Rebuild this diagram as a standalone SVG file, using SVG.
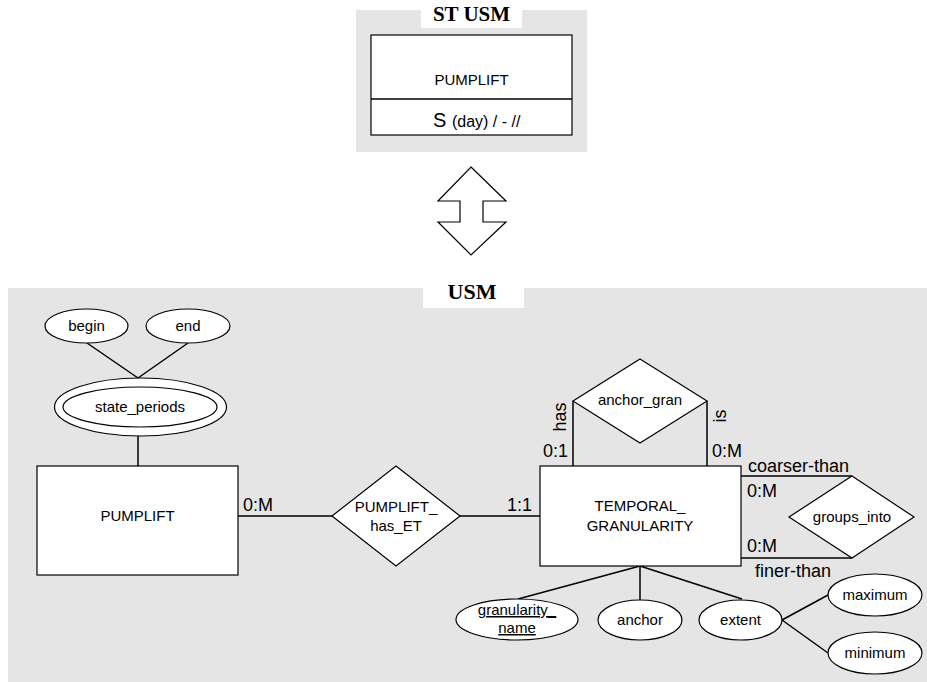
<svg xmlns="http://www.w3.org/2000/svg" width="927" height="682" viewBox="0 0 927 682">
<style>
.panel{fill:#e5e5e5;stroke:none}
.tbox{fill:#ffffff;stroke:none}
.shape{fill:#ffffff;stroke:#000000;stroke-width:1.2}
.ln{stroke:#000000;stroke-width:1.5;fill:none}
.t{font-family:"Liberation Sans",Arial,sans-serif;font-size:15px;fill:#000;text-anchor:middle}
.c{font-family:"Liberation Sans",Arial,sans-serif;font-size:18px;fill:#000}
.title{font-family:"Liberation Serif","Times New Roman",serif;font-weight:bold;font-size:21px;fill:#000;text-anchor:middle}
</style>
<rect width="927" height="682" fill="#ffffff"/>
<g id="st-usm-panel">
<rect class="panel" x="356" y="10" width="231" height="142"/>
<rect class="tbox" x="421" y="0" width="101" height="28"/>
<text class="title" x="471.5" y="21">ST USM</text>
</g>
<g id="st-pumplift">
<rect class="shape" x="371" y="35" width="201" height="100"/>
<line class="ln" x1="371" y1="99" x2="572" y2="99"/>
<text class="t" x="471.5" y="85">PUMPLIFT</text>
<text x="433" y="127" style="font-family:'Liberation Sans',Arial,sans-serif;font-size:20px;fill:#000">S <tspan style="font-size:16px">(day) / - //</tspan></text>
</g>
<g id="double-arrow">
<polygon class="shape" points="471,167 506,201 483,201 483,222 506,222 471,255 438,222 460,222 460,201 438,201"/>
</g>
<g id="usm-panel">
<rect class="panel" x="8" y="288" width="919" height="394"/>
<rect class="tbox" x="423" y="288" width="101" height="20"/>
<text class="title" x="472" y="299" style="font-size:22px">USM</text>
</g>
<g id="connectors">
<line class="ln" x1="87" y1="343" x2="138" y2="378"/>
<line class="ln" x1="188" y1="343" x2="138" y2="378"/>
<line class="ln" x1="138" y1="436" x2="138" y2="466"/>
<line class="ln" x1="238" y1="516" x2="332" y2="516"/>
<line class="ln" x1="460" y1="516" x2="540" y2="516"/>
<line class="ln" x1="573" y1="401" x2="573" y2="466"/>
<line class="ln" x1="707" y1="401" x2="707" y2="466"/>
<line class="ln" x1="741" y1="476" x2="852" y2="476"/>
<line class="ln" x1="741" y1="558" x2="852" y2="558"/>
<line class="ln" x1="640" y1="566" x2="518" y2="599"/>
<line class="ln" x1="640" y1="566" x2="640" y2="600"/>
<line class="ln" x1="640" y1="566" x2="742" y2="599"/>
<line class="ln" x1="782" y1="620" x2="828" y2="595"/>
<line class="ln" x1="782" y1="620" x2="828" y2="653"/>
<text class="c" x="243" y="511">0:M</text>
<text class="c" x="532" y="511" text-anchor="end">1:1</text>
<text class="c" x="543" y="457">0:1</text>
<text class="c" x="712" y="457">0:M</text>
<text class="c" transform="translate(566,417) rotate(-90)" text-anchor="middle">has</text>
<text class="c" transform="translate(726,416) rotate(-90)" text-anchor="middle">is</text>
<text class="c" x="748" y="472">coarser-than</text>
<text class="c" x="747" y="497">0:M</text>
<text class="c" x="747" y="552">0:M</text>
<text class="c" x="755" y="577">finer-than</text>
</g>
<g id="begin">
<ellipse class="shape" cx="86.5" cy="326" rx="41.5" ry="17"/>
<text class="t" x="86.5" y="331">begin</text>
</g>
<g id="end">
<ellipse class="shape" cx="188" cy="326" rx="42" ry="17"/>
<text class="t" x="188" y="331">end</text>
</g>
<g id="state_periods">
<ellipse class="shape" cx="140.5" cy="407" rx="86" ry="29"/>
<ellipse class="shape" cx="140" cy="407" rx="77" ry="20"/>
<text class="t" x="140" y="412">state_periods</text>
</g>
<g id="pumplift">
<rect class="shape" x="37" y="466" width="201" height="109"/>
<text class="t" x="137.5" y="521">PUMPLIFT</text>
</g>
<g id="pumplift_has_et">
<polygon class="shape" points="396,466 460,516 396,566 332,516"/>
<text class="t" x="396" y="512">PUMPLIFT_</text>
<text class="t" x="396" y="531">has_ET</text>
</g>
<g id="temporal_granularity">
<rect class="shape" x="540" y="466" width="201" height="100"/>
<text class="t" x="640" y="511">TEMPORAL_</text>
<text class="t" x="640" y="531">GRANULARITY</text>
</g>
<g id="anchor_gran">
<polygon class="shape" points="640,359 707,401 640,443 573,401"/>
<text class="t" x="640" y="405">anchor_gran</text>
</g>
<g id="groups_into">
<polygon class="shape" points="852,476 914,517 852,558 789,517"/>
<text class="t" x="852" y="522">groups_into</text>
</g>
<g id="granularity_name">
<ellipse class="shape" cx="517" cy="619.5" rx="61" ry="20.5"/>
<text class="t" x="517" y="615" text-decoration="underline">granularity_</text>
<text class="t" x="517" y="633" text-decoration="underline">name</text>
</g>
<g id="anchor">
<ellipse class="shape" cx="640" cy="620" rx="42" ry="20"/>
<text class="t" x="640" y="625">anchor</text>
</g>
<g id="extent">
<ellipse class="shape" cx="740.5" cy="620" rx="41.5" ry="20"/>
<text class="t" x="740.5" y="625">extent</text>
</g>
<g id="maximum">
<ellipse class="shape" cx="875" cy="595" rx="47" ry="21"/>
<text class="t" x="875" y="600">maximum</text>
</g>
<g id="minimum">
<ellipse class="shape" cx="875" cy="653" rx="47" ry="21"/>
<text class="t" x="875" y="658">minimum</text>
</g>
</svg>
